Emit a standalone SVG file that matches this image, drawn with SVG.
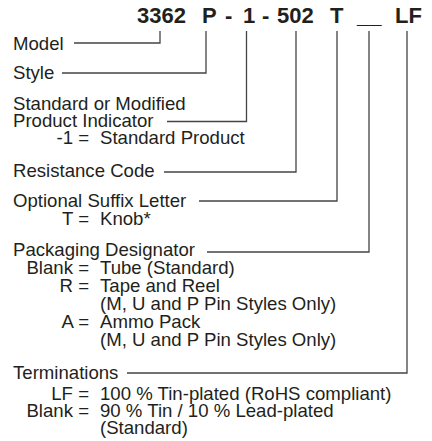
<svg xmlns="http://www.w3.org/2000/svg" width="432" height="441" viewBox="0 0 432 441">
<style>
.t{font-family:"Liberation Sans",Arial,Helvetica,sans-serif;font-size:18.6px;fill:#231f20}
.e{text-anchor:end}
.h{font-family:"Liberation Sans",Arial,Helvetica,sans-serif;font-size:22px;font-weight:bold;fill:#231f20}
.c{fill:none;stroke:#444;stroke-width:1.3}
</style>
<rect width="432" height="441" fill="#fff"/>
<g id="title">
<text class="h" y="23"><tspan x="137">3362</tspan><tspan x="202">P</tspan><tspan x="225">-</tspan><tspan x="243">1</tspan><tspan x="262">-</tspan><tspan x="277">502</tspan><tspan x="330">T</tspan><tspan x="357">__</tspan><tspan x="395">LF</tspan></text>
</g>
<g id="connectors" class="c">
<path d="M160,31V43H74"/>
<path d="M206,31V73H62"/>
<path d="M246.5,31V121.5H167"/>
<path d="M296,31V172H164"/>
<path d="M337,31V201H199"/>
<path d="M369,31V252H207"/>
<path d="M407,31V373H127"/>
</g>
<g id="model"><text class="t" x="13" y="50">Model</text></g>
<g id="style"><text class="t" x="13" y="79">Style</text></g>
<g id="product-indicator">
<text class="t" x="13" y="110">Standard or Modified</text>
<text class="t" x="13" y="127">Product Indicator</text>
<text class="t e" x="89" y="144">-1 =</text>
<text class="t" x="100" y="144">Standard Product</text>
</g>
<g id="resistance-code"><text class="t" x="13" y="177">Resistance Code</text></g>
<g id="suffix">
<text class="t" x="13" y="207">Optional Suffix Letter</text>
<text class="t e" x="89" y="225">T =</text>
<text class="t" x="100" y="225">Knob*</text>
</g>
<g id="packaging">
<text class="t" x="13" y="256">Packaging Designator</text>
<text class="t e" x="89" y="274">Blank =</text>
<text class="t" x="100" y="274">Tube (Standard)</text>
<text class="t e" x="89" y="292">R =</text>
<text class="t" x="100" y="292">Tape and Reel</text>
<text class="t" x="100" y="310">(M, U and P Pin Styles Only)</text>
<text class="t e" x="89" y="328">A =</text>
<text class="t" x="100" y="328">Ammo Pack</text>
<text class="t" x="100" y="346">(M, U and P Pin Styles Only)</text>
</g>
<g id="terminations">
<text class="t" x="13" y="379">Terminations</text>
<text class="t e" x="89" y="400">LF =</text>
<text class="t" x="100" y="400">100 % Tin-plated (RoHS compliant)</text>
<text class="t e" x="89" y="417">Blank =</text>
<text class="t" x="100" y="417">90 % Tin / 10 % Lead-plated</text>
<text class="t" x="100" y="434">(Standard)</text>
</g>
</svg>
